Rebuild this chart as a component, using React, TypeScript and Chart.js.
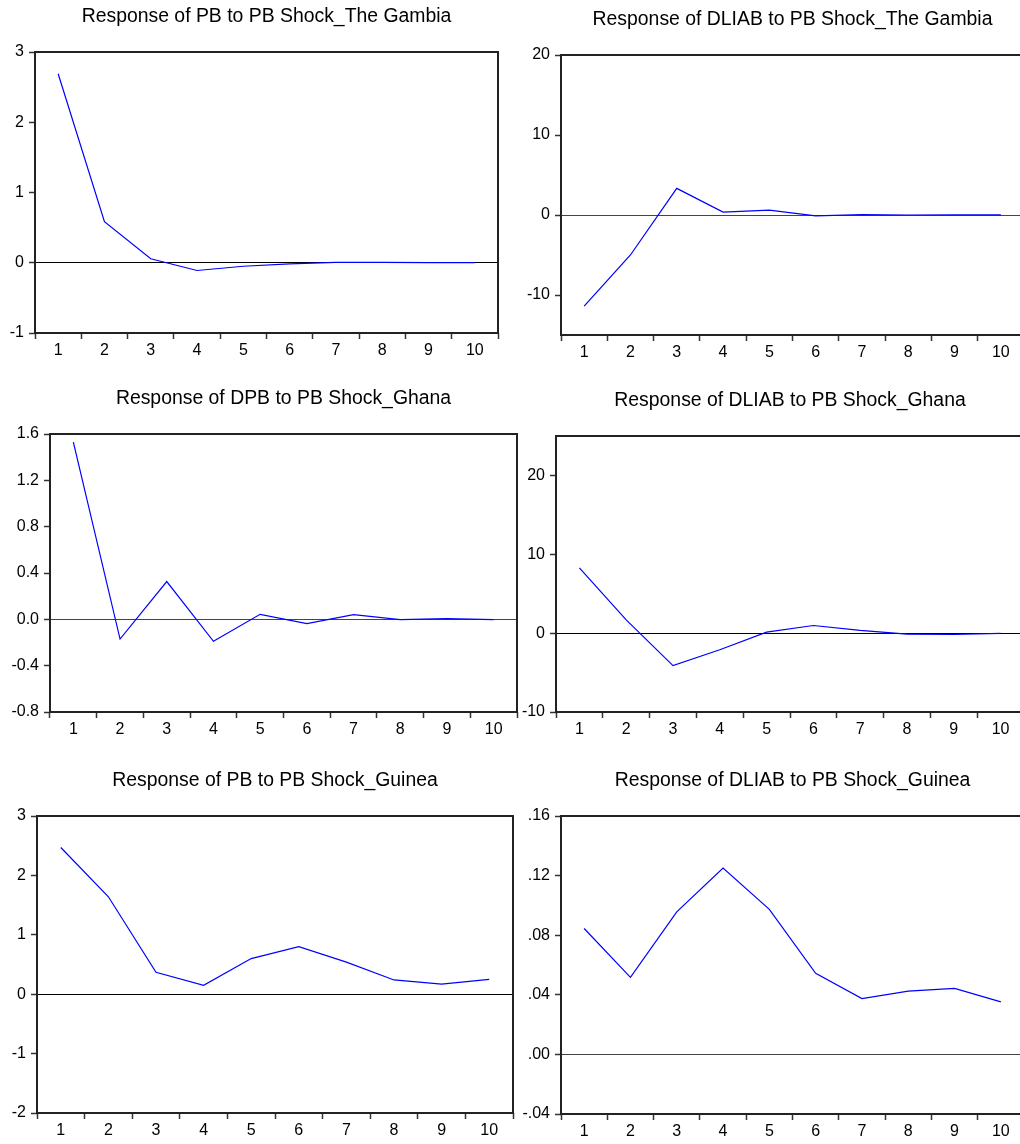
import React, { useEffect, useRef } from "react";
import { Chart, registerables } from "chart.js";

Chart.register(...registerables);

// ---------- data ----------
const periods = ["1", "2", "3", "4", "5", "6", "7", "8", "9", "10"];

const gambiaPB = [2.69, 0.585, 0.057, -0.11, -0.05, -0.015, 0.005, 0.005, 0.003, 0.002];
const gambiaDLIAB = [-11.4, -5.0, 3.33, 0.37, 0.62, -0.12, 0.05, 0.0, 0.02, 0.02];
const ghanaDPB = [1.53, -0.17, 0.326, -0.19, 0.043, -0.037, 0.04, -0.003, 0.006, -0.003];
const ghanaDLIAB = [8.28, 1.68, -4.12, -2.1, 0.13, 0.97, 0.34, -0.13, -0.17, -0.04];
const guineaPB = [2.47, 1.64, 0.37, 0.15, 0.6, 0.8, 0.54, 0.24, 0.17, 0.25];
const guineaDLIAB = [0.0845, 0.0517, 0.0957, 0.125, 0.0973, 0.0544, 0.0375, 0.0425, 0.0443, 0.0353];

const ticksGambiaPB = [-1, 0, 1, 2, 3];
const labelsGambiaPB = ["-1", "0", "1", "2", "3"];
const ticksGambiaDLIAB = [-10, 0, 10, 20];
const labelsGambiaDLIAB = ["-10", "0", "10", "20"];
const ticksGhanaDPB = [-0.8, -0.4, 0, 0.4, 0.8, 1.2, 1.6];
const labelsGhanaDPB = ["-0.8", "-0.4", "0.0", "0.4", "0.8", "1.2", "1.6"];
const ticksGhanaDLIAB = [-10, 0, 10, 20];
const labelsGhanaDLIAB = ["-10", "0", "10", "20"];
const ticksGuineaPB = [-2, -1, 0, 1, 2, 3];
const labelsGuineaPB = ["-2", "-1", "0", "1", "2", "3"];
const ticksGuineaDLIAB = [-0.04, 0, 0.04, 0.08, 0.12, 0.16];
const labelsGuineaDLIAB = ["-.04", ".00", ".04", ".08", ".12", ".16"];

// ---------- layout / panels ----------
type Panel = {
  title: string;
  values: number[];
  yMin: number;
  yMax: number;
  tickValues: number[];
  tickLabels: string[];
  zeroColor: string;
  L: number;
  T: number;
  R: number;
  B: number;
};

const panels: Panel[] = [
  {
    title: "Response of PB to PB Shock_The Gambia",
    values: gambiaPB,
    yMin: -1,
    yMax: 3,
    tickValues: ticksGambiaPB,
    tickLabels: labelsGambiaPB,
    zeroColor: "#000000",
    L: 35,
    T: 52,
    R: 498,
    B: 333,
  },
  {
    title: "Response of DLIAB to PB Shock_The Gambia",
    values: gambiaDLIAB,
    yMin: -15,
    yMax: 20,
    tickValues: ticksGambiaDLIAB,
    tickLabels: labelsGambiaDLIAB,
    zeroColor: "#444444",
    L: 561,
    T: 55,
    R: 1024,
    B: 335,
  },
  {
    title: "Response of DPB to PB Shock_Ghana",
    values: ghanaDPB,
    yMin: -0.8,
    yMax: 1.6,
    tickValues: ticksGhanaDPB,
    tickLabels: labelsGhanaDPB,
    zeroColor: "#444444",
    L: 50,
    T: 434,
    R: 517,
    B: 712,
  },
  {
    title: "Response of DLIAB to PB Shock_Ghana",
    values: ghanaDLIAB,
    yMin: -10,
    yMax: 25,
    tickValues: ticksGhanaDLIAB,
    tickLabels: labelsGhanaDLIAB,
    zeroColor: "#000000",
    L: 556,
    T: 436,
    R: 1024,
    B: 712,
  },
  {
    title: "Response of PB to PB Shock_Guinea",
    values: guineaPB,
    yMin: -2,
    yMax: 3,
    tickValues: ticksGuineaPB,
    tickLabels: labelsGuineaPB,
    zeroColor: "#000000",
    L: 37,
    T: 816,
    R: 513,
    B: 1113,
  },
  {
    title: "Response of DLIAB to PB Shock_Guinea",
    values: guineaDLIAB,
    yMin: -0.04,
    yMax: 0.16,
    tickValues: ticksGuineaDLIAB,
    tickLabels: labelsGuineaDLIAB,
    zeroColor: "#444444",
    L: 561,
    T: 816,
    R: 1024,
    B: 1114,
  },
];

const PAD_LEFT = 60;
const PAD_TOP = 50;
const PAD_RIGHT = 10;
const PAD_BOTTOM = 40;
const Y_AXIS_W = 45;
const X_AXIS_H = 30;
const FONT = '"Liberation Sans", Arial, Helvetica, sans-serif';

const panelDecor = {
  id: "panelDecor",
  afterDraw(chart: any, _args: any, opts: any) {
    const { ctx, chartArea } = chart;
    ctx.save();
    ctx.strokeStyle = "#222222";
    ctx.lineWidth = 2;
    ctx.strokeRect(
      chartArea.left,
      chartArea.top,
      chartArea.right - chartArea.left,
      chartArea.bottom - chartArea.top
    );
    ctx.font = `19.4px ${FONT}`;
    ctx.fillStyle = "#000000";
    ctx.textAlign = "center";
    ctx.textBaseline = "alphabetic";
    ctx.fillText(opts.text || "", (chartArea.left + chartArea.right) / 2, chartArea.top - 30);
    ctx.restore();
  },
};

function PanelChart({ p }: { p: Panel }) {
  const ref = useRef<HTMLCanvasElement | null>(null);
  const width = p.R - p.L + PAD_LEFT + PAD_RIGHT;
  const height = p.B - p.T + PAD_TOP + PAD_BOTTOM;

  useEffect(() => {
    if (!ref.current) return;
    const chart = new Chart(ref.current, {
      type: "line",
      data: {
        labels: periods,
        datasets: [
          {
            data: p.values,
            borderColor: "#0000ff",
            borderWidth: 1.2,
            pointRadius: 0,
            tension: 0,
            fill: false,
          },
        ],
      },
      options: {
        animation: false,
        responsive: false,
        maintainAspectRatio: false,
        events: [],
        layout: {
          padding: {
            left: PAD_LEFT - Y_AXIS_W,
            top: PAD_TOP,
            right: PAD_RIGHT,
            bottom: PAD_BOTTOM - X_AXIS_H,
          },
        },
        plugins: {
          legend: { display: false },
          tooltip: { enabled: false },
          title: { display: false },
          panelDecor: { text: p.title },
        } as any,
        scales: {
          x: {
            type: "category",
            offset: true,
            afterFit: (s: any) => {
              s.height = X_AXIS_H;
            },
            grid: {
              offset: true,
              drawOnChartArea: false,
              drawTicks: true,
              tickLength: 6,
              tickColor: "#333333",
              tickWidth: 1.5,
            } as any,
            border: { display: false },
            ticks: {
              color: "#000000",
              font: { family: FONT, size: 16 },
              padding: 2,
              maxRotation: 0,
              autoSkip: false,
            },
          },
          y: {
            type: "linear",
            min: p.yMin,
            max: p.yMax,
            afterFit: (s: any) => {
              s.width = Y_AXIS_W;
            },
            afterBuildTicks: (s: any) => {
              s.ticks = p.tickValues.map((v) => ({ value: v }));
            },
            grid: {
              drawOnChartArea: true,
              drawTicks: true,
              tickLength: 6,
              tickColor: "#333333",
              tickWidth: 1.5,
              lineWidth: 1,
              color: (ctx: any) =>
                ctx.tick && ctx.tick.value === 0 ? p.zeroColor : "rgba(0,0,0,0)",
            } as any,
            border: { display: false },
            ticks: {
              color: "#000000",
              font: { family: FONT, size: 16 },
              padding: 5,
              callback: (_v: any, i: number) => p.tickLabels[i],
            },
          },
        },
      },
      plugins: [panelDecor],
    });
    return () => chart.destroy();
  }, [p]);

  return (
    <canvas
      ref={ref}
      width={width}
      height={height}
      style={{
        position: "absolute",
        left: p.L - PAD_LEFT,
        top: p.T - PAD_TOP,
        width,
        height,
      }}
    />
  );
}

export default function App() {
  return (
    <div
      style={{
        position: "absolute",
        left: 0,
        top: 0,
        width: 1020,
        height: 1144,
        overflow: "hidden",
        background: "#ffffff",
      }}
    >
      {panels.map((p, i) => (
        <PanelChart key={i} p={p} />
      ))}
    </div>
  );
}
